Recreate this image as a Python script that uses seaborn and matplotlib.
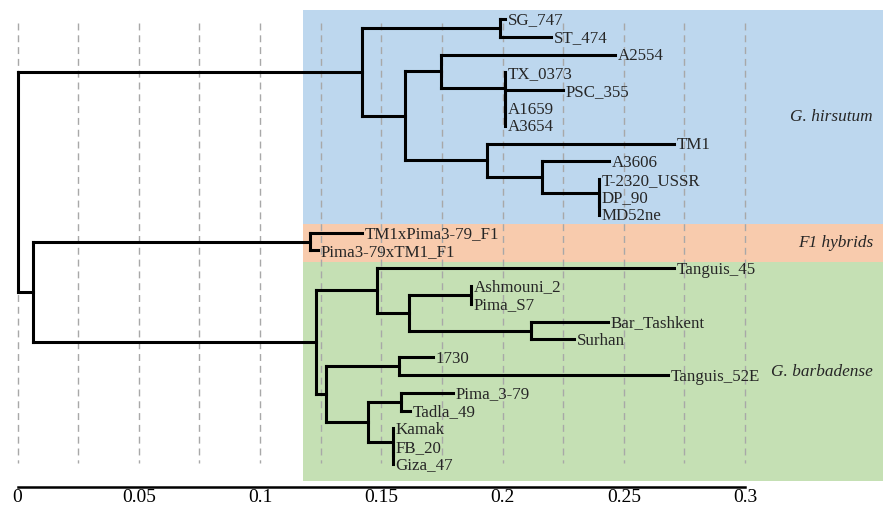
import numpy as np
import pandas as pd
import matplotlib
matplotlib.use("Agg")
import matplotlib.pyplot as plt
import seaborn as sns

# ---------------- data: tree (node, parent, branch length) ----------------
node_names = [
    "root",
    "H", "N_sgst", "SG_747", "ST_474",
    "N405", "N441", "A2554", "N_tx", "TX_0373", "N_tx2", "PSC_355", "N_tx3", "A1659", "A3654",
    "N487", "TM1", "N542", "A3606", "N_dp", "T-2320_USSR", "N_dp2", "DP_90", "MD52ne",
    "N33", "F1", "TM1xPima3-79_F1", "Pima3-79xTM1_F1",
    "B", "N377", "Tanguis_45", "N409", "N_ash", "Ashmouni_2", "Pima_S7",
    "N531", "Bar_Tashkent", "Surhan",
    "N326", "N399", "1730", "Tanguis_52E",
    "N368", "N401", "Pima_3-79", "Tadla_49", "N393", "Kamak", "N_fb", "FB_20", "Giza_47",
]
node_parents = [
    None,
    "root", "H", "N_sgst", "N_sgst",
    "H", "N405", "N441", "N441", "N_tx", "N_tx", "N_tx2", "N_tx2", "N_tx3", "N_tx3",
    "N405", "N487", "N487", "N542", "N542", "N_dp", "N_dp", "N_dp2", "N_dp2",
    "root", "N33", "F1", "F1",
    "N33", "B", "N377", "N377", "N409", "N_ash", "N_ash",
    "N409", "N531", "N531",
    "B", "N326", "N399", "N399",
    "N326", "N368", "N401", "N401", "N368", "N393", "N393", "N_fb", "N_fb",
]
branch_lengths = [
    0.0004,
    0.1417, 0.0569, 0.0020, 0.0210,
    0.0177, 0.0148, 0.0718, 0.0264, 0.0, 0.0, 0.0239, 0.0, 0.0, 0.0,
    0.0338, 0.0771, 0.0227, 0.0276, 0.0235, 0.0, 0.0, 0.0, 0.0,
    0.0060, 0.1142, 0.0215, 0.0033,
    0.1167, 0.0251, 0.1225, 0.0132, 0.0256, 0.0, 0.0,
    0.0504, 0.0317, 0.0177,
    0.0041, 0.0301, 0.0140, 0.1109,
    0.0173, 0.0136, 0.0215, 0.0038, 0.0103, 0.0, 0.0, 0.0, 0.0,
]

group_names = ["G. hirsutum", "F1 hybrids", "G. barbadense"]
group_colors = ["#BDD7EE", "#F8CBAD", "#C5E0B4"]
scale_ticks = [0, 0.05, 0.1, 0.15, 0.2, 0.25, 0.3]
scale_tick_labels = ["0", "0.05", "0.1", "0.15", "0.2", "0.25", "0.3"]

# ---------------- layout of tree ----------------
children = {n: [] for n in node_names}
for n, p in zip(node_names, node_parents):
    if p is not None:
        children[p].append(n)
bl = dict(zip(node_names, branch_lengths))
par = dict(zip(node_names, node_parents))
root = node_names[0]

xpos = {}
def set_x(n, px):
    xpos[n] = px + bl[n]
    for c in children[n]:
        set_x(c, xpos[n])
set_x(root, 0.0)

leaves = []
def collect(n):
    if not children[n]:
        leaves.append(n)
    for c in children[n]:
        collect(c)
collect(root)

ypos = {l: i for i, l in enumerate(leaves)}
def set_y(n):
    if children[n]:
        ys = [set_y(c) for c in children[n]]
        ypos[n] = (min(ys) + max(ys)) / 2
    return ypos[n]
set_y(root)

rows = []
seg = 0
for n in node_names:
    p = par[n]
    if p is not None:
        rows.append((seg, xpos[p], ypos[n])); rows.append((seg, xpos[n], ypos[n])); seg += 1
    if children[n]:
        ys = [ypos[c] for c in children[n]]
        rows.append((seg, xpos[n], min(ys))); rows.append((seg, xpos[n], max(ys))); seg += 1
segs = pd.DataFrame(rows, columns=["seg", "x", "y"])

# ---------------- figure ----------------
sns.set_style("white")
plt.rcParams["font.family"] = ["Liberation Serif", "DejaVu Serif"]

fig = plt.figure(figsize=(8.83, 5.12), dpi=100)
axis_px = 487
ax = fig.add_axes([0, (512 - axis_px) / 512, 1, axis_px / 512])
px_per_unit = 2425.0
row_px = 17.8
ax.set_xlim(-17.5 / px_per_unit, (883 - 17.5) / px_per_unit)
ax.set_ylim((axis_px - 19) / row_px, -19 / row_px)

# background bands
band_edges = [-0.506, 11.52, 13.65, 25.96]
x_band = (303 - 17.5) / px_per_unit
for i, (gname, gcol) in enumerate(zip(group_names, group_colors)):
    y0, y1 = band_edges[i], band_edges[i + 1]
    ax.fill_between([x_band, 1.0], y0, y1, color=gcol, lw=0, zorder=0)
    ax.text(0.9887, (y0 + y1) / 2, gname, transform=ax.get_yaxis_transform(),
            ha="right", va="center", fontsize=12.4, style="italic", zorder=5)

# dashed grid lines
for gx in np.arange(0, 0.3001, 0.025):
    ax.plot([gx, gx], [0.22, 24.95], color="#A8A8A8", lw=1.0,
            dashes=(5, 3.5), zorder=1)

# tree
sns.lineplot(data=segs, x="x", y="y", units="seg", estimator=None, sort=False,
             color="black", lw=2.2, ax=ax, zorder=3, legend=False)
for line in ax.lines[-seg:]:
    line.set_solid_capstyle("projecting")

# leaf labels
for l in leaves:
    ax.annotate(l, (xpos[l], ypos[l]), xytext=(2.0, -4.0), textcoords="offset points",
                ha="left", va="baseline", fontsize=12.2, zorder=5)

# scale axis
ax.set_xlabel("")
ax.set_ylabel("")
for s in ["top", "right", "left"]:
    ax.spines[s].set_visible(False)
ax.spines["bottom"].set_bounds(0, 0.3)
ax.spines["bottom"].set_linewidth(1.8)
ax.spines["bottom"].set_color("black")
ax.set_yticks([])
ax.set_xticks(scale_ticks)
ax.set_xticklabels(scale_tick_labels, fontsize=14)
ax.tick_params(axis="x", direction="out", length=1.5, width=1.5, pad=0, colors="black")

fig.savefig("out.png", dpi=100)
